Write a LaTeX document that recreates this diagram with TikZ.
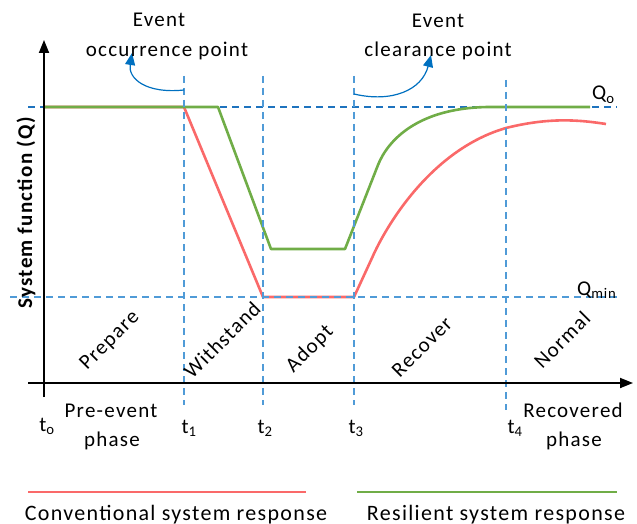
\documentclass[tikz,border=0pt]{standalone}
\usepackage{fontspec}
\setmainfont{Carlito}[LetterSpace=6]
\usetikzlibrary{arrows.meta}
\definecolor{convred}{RGB}{250,105,105}
\definecolor{resgreen}{RGB}{112,173,71}
\definecolor{guideblue}{RGB}{80,155,215}
\definecolor{darkblue}{RGB}{30,115,190}
\definecolor{noteblue}{RGB}{0,112,192}
\begin{document}
\begin{tikzpicture}[x=1pt,y=-1pt,
  txt/.style={font=\fontsize{21}{25}\selectfont, inner sep=0pt},
  legtxt/.style={font=\fontsize{22}{26}\selectfont, inner sep=0pt},
  diag/.style={txt, rotate=45},
  guide/.style={guideblue, line width=1.4pt, dash pattern=on 7pt off 5pt},
  axis/.style={black, line width=1.8pt, -{Triangle[length=13pt,width=10pt]}},
  resp/.style={line width=2.6pt, line join=round},
  note/.style={noteblue, line width=1.2pt, -{Triangle[length=12pt,width=10pt]}}]
\useasboundingbox (0,0) rectangle (637,524);

% nominal level line, behind the responses
\draw[darkblue, line width=1.2pt, dash pattern=on 7pt off 5pt] (28,107) -- (617,107);

% conventional response
\draw[resp, convred] (44,107) -- (184,107) -- (263,297) -- (354,297) -- (372,258)
  .. controls (385,228) and (430,150) .. (506,128)
  .. controls (550,117) and (580,120) .. (606,124);

% resilient response
\draw[resp, resgreen] (44,107) -- (218,107) -- (271,249) -- (345,249) -- (378,165)
  .. controls (388,140) and (418,108) .. (488,107) -- (590,107);

% minimum level and phase boundaries
\draw[guide] (10,297) -- (617,297);
\draw[guide] (184,76) -- (184,405);
\draw[guide] (263,76) -- (263,405);
\draw[guide] (354,76) -- (354,405);
\draw[guide] (506,80) -- (506,410);

% axes
\draw[axis] (28,383) -- (633,383);
\draw[axis] (44,397) -- (44,40);

% event markers
\draw[note] (184,90) .. controls (145,94) and (128,78) .. (132,53);
\draw[note] (354,94) .. controls (392,103) and (422,90) .. (431,55);

\node[txt, anchor=base] (ev1) at (159,27) {Event};
\node[txt, anchor=base] (ev1b) at (167,57) {occurrence point};
\node[txt, anchor=base] (ev2) at (438,28) {Event};
\node[txt, anchor=base] (ev2b) at (438,57) {clearance point};

% level labels
\node[txt, anchor=base west] (q0) at (592,100) {Q\textsubscript{o}};
\node[txt, anchor=base west] (qmin) at (577,295) {Q\textsubscript{min}};

% axis title
\node[txt, font=\fontsize{21}{25}\selectfont\bfseries, rotate=90] (ylab) at (26,213) {System function (Q)};

% phase names
\node[diag] (prep) at (110,341) {Prepare};
\node[diag] (with) at (222,340) {Withstand};
\node[diag] (adopt) at (310,349) {Adopt};
\node[diag] (recov) at (422,347) {Recover};
\node[diag] (norm) at (562,340) {Normal};

% time marks
\node[txt, anchor=base] (t0) at (47,431) {t\textsubscript{o}};
\node[txt, anchor=base] (t1) at (189,433) {t\textsubscript{1}};
\node[txt, anchor=base] (t2) at (265,433) {t\textsubscript{2}};
\node[txt, anchor=base] (t3) at (356,433) {t\textsubscript{3}};
\node[txt, anchor=base] (t4) at (515,433) {t\textsubscript{4}};

\node[txt, anchor=base] (pre1) at (111,417) {Pre-event};
\node[txt, anchor=base] (pre2) at (112,446) {phase};
\node[txt, anchor=base] (rec1) at (573,417) {Recovered};
\node[txt, anchor=base] (rec2) at (574,446) {phase};

% legend
\draw[convred, line width=2.6pt] (28,492) -- (306,492);
\draw[resgreen, line width=2.6pt] (357,492) -- (617,492);
\node[legtxt, anchor=base] (leg1) at (176,520) {Conventional system response};
\node[legtxt, anchor=base] (leg2) at (496,520) {Resilient system response};
\end{tikzpicture}
\end{document}
